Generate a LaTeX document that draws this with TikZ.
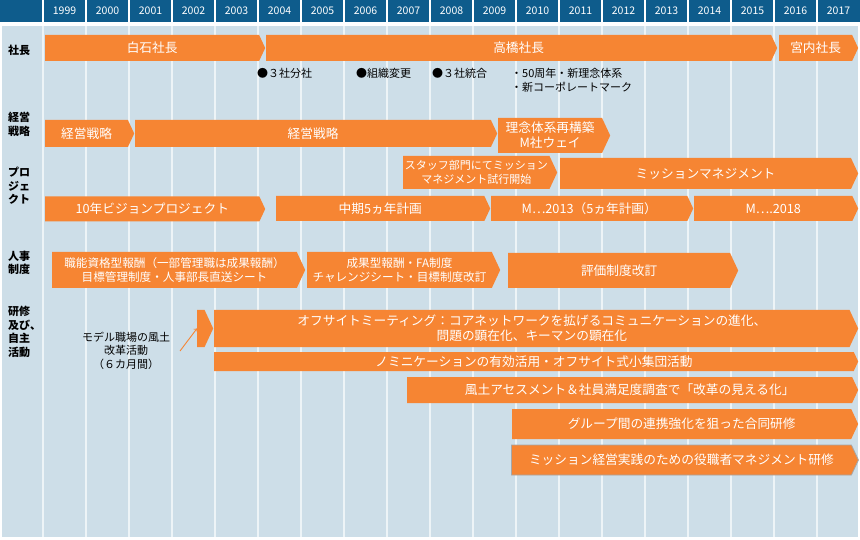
\documentclass[tikz,border=0pt]{standalone}
\usepackage{fontspec}
\setmainfont{Noto Sans CJK JP}
\usepackage{xcolor}
\usepackage{tikz}
\usetikzlibrary{shapes.symbols}
\definecolor{bar_orange}{HTML}{F68533}
\definecolor{sky_back}{HTML}{CDDEE8}
\definecolor{head_blue}{HTML}{0E5C8C}
\tikzset{
  chevron/.style={signal, signal to=east, signal pointer angle=130, fill=bar_orange,
    text=white, inner sep=0pt, anchor=west, align=center,
    font=\fontsize{12.7}{15}\selectfont},
  rowlabel/.style={anchor=west, inner sep=0pt, align=left,
    font=\bfseries\fontsize{11}{13.5}\selectfont},
  memo/.style={anchor=west, inner sep=0pt, align=left,
    font=\fontsize{11}{14}\selectfont},
  yearlab/.style={text=white, inner sep=0pt, font=\fontsize{10.5}{12}\selectfont}
}

\begin{document}
\begin{tikzpicture}[x=1pt, y=-1pt]
      \useasboundingbox (0,0) rectangle (860,540);

      % header with years
      \fill[head_blue] (0,0) rectangle (860,22);
      \foreach \yr [count=\k] in {1999,...,2017} {
        \node[yearlab] (y\yr) at (43*\k+21.5,11) {\yr};
        \draw[white, line width=1.2] (43*\k,0) -- (43*\k,22);
      }

      % body and column lines
      \fill[sky_back] (2,26) rectangle (858,537);
      \foreach \k in {1,...,19}
        \draw[white!65!sky_back, line width=1.5] (43*\k,26) -- (43*\k,537);

      % row labels
      \node[rowlabel] (lshacho) at (8,50) {社長};
      \node[rowlabel] (lsenryaku) at (8,124.5) {経営\\戦略};
      \node[rowlabel] (lproject) at (8,186) {プロ\\ジェ\\クト};
      \node[rowlabel] (ljinji) at (8,263) {人事\\制度};
      \node[rowlabel] (lkenshu) at (8,332) {研修\\及び、\\自主\\活動};

      % presidents
      \node[chevron, minimum width=220, minimum height=26] (shirai) at (45,48) {白石社長};
      \node[chevron, minimum width=511, minimum height=26] (takahashi) at (266,48) {高橋社長};
      \node[chevron, minimum width=79, minimum height=26] (miyauchi) at (779,48) {宮内社長};

      \node[memo] (bunsha) at (257,73) {●３社分社};
      \node[memo] (soshiki) at (356,73) {●組織変更};
      \node[memo] (togo) at (432,73) {●３社統合};
      \node[memo] (shunen) at (511,80) {・50周年・新理念体系\\・新コーポレートマーク};

      % management strategy
      \node[chevron, minimum width=89, minimum height=27] (senryaku1) at (45,133.5) {経営戦略};
      \node[chevron, minimum width=362, minimum height=27] (senryaku2) at (135,133.5) {経営戦略};
      \node[chevron, minimum width=112, minimum height=35] (rinen) at (498,135.5) {理念体系再構築\\M社ウェイ};

      % projects
      \node[chevron, minimum width=154, minimum height=33, font=\fontsize{11}{14}\selectfont] (staff) at (403,172.5) {スタッフ部門にてミッション\\マネジメント試行開始};
      \node[chevron, minimum width=298, minimum height=31] (mission) at (560,173.5) {ミッションマネジメント};
      \node[chevron, minimum width=220, minimum height=25] (vision) at (45,209) {10年ビジョンプロジェクト};
      \node[chevron, minimum width=214, minimum height=25] (chuki) at (276,208.5) {中期5ヵ年計画};
      \node[chevron, minimum width=202, minimum height=25] (m2013) at (491,208.5) {M…2013（5ヵ年計画）};
      \node[chevron, minimum width=164, minimum height=25] (m2018) at (694,208.5) {M….2018};

      % personnel system
      \node[chevron, minimum width=253, minimum height=36, font=\fontsize{11.6}{14}\selectfont] (shokuno) at (52,270) {職能資格型報酬（一部管理職は成果報酬）\\目標管理制度・人事部長直送シート};
      \node[chevron, minimum width=193, minimum height=36, font=\fontsize{11.6}{14}\selectfont] (seika) at (307,270) {成果型報酬・FA制度\\チャレンジシート・目標制度改訂};
      \node[chevron, minimum width=230, minimum height=35] (hyoka) at (508,270.5) {評価制度改訂};

      % training and activities
      \node[chevron, minimum width=16, minimum height=37] (model) at (197,328.5) {};
      \node[chevron, minimum width=644, minimum height=37] (offsite) at (214,328.5) {オフサイトミーティング：コアネットワークを拡げるコミュニケーションの進化、\\問題の顕在化、キーマンの顕在化};
      \node[chevron, minimum width=644, minimum height=19] (nomi) at (214,361.5) {ノミニケーションの有効活用・オフサイト式小集団活動};
      \node[chevron, minimum width=451, minimum height=26] (fudo) at (407,390) {風土アセスメント＆社員満足度調査で「改革の見える化」};
      \node[chevron, minimum width=346, minimum height=30] (group) at (512,424) {グループ間の連携強化を狙った合同研修};
      \node[chevron, minimum width=347, minimum height=30, draw=gray!70, line width=0.8] (yakushoku) at (511,460) {ミッション経営実践のための役職者マネジメント研修};

      \node[align=center, inner sep=0pt, font=\fontsize{11}{13.5}\selectfont] (modelnote) at (126,350.5) {モデル職場の風土\\改革活動\\（６カ月間）};
      \coordinate (notetip) at (180,351);
      \draw[->, bar_orange, line width=0.9] (notetip) -- (model.west);
    \end{tikzpicture}
\end{document}
